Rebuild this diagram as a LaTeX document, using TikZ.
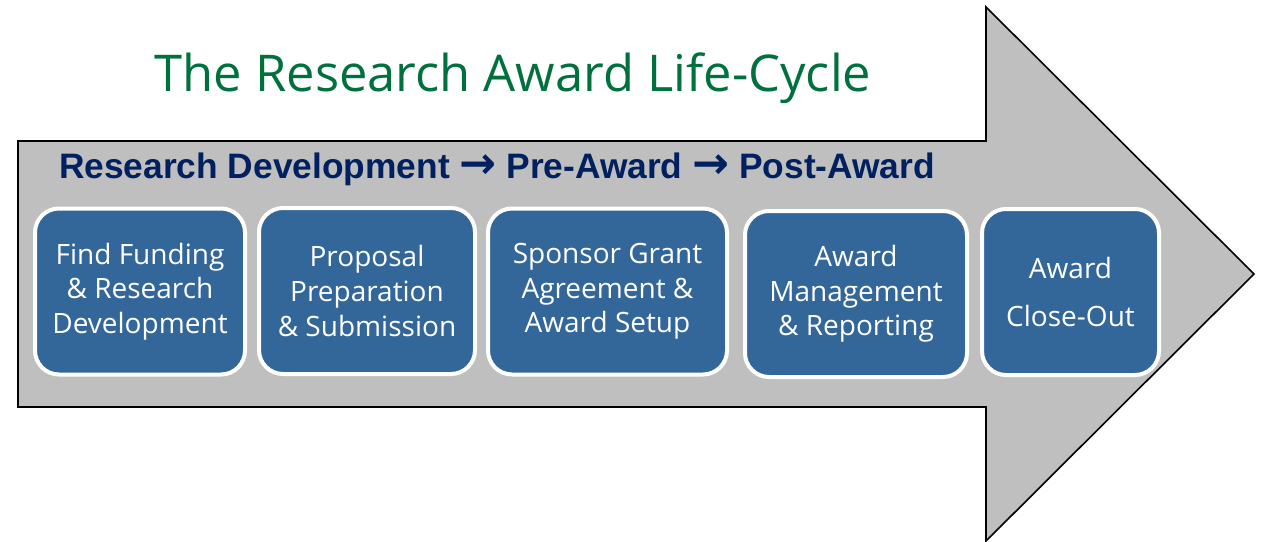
\documentclass[tikz,border=0pt]{standalone}
\usepackage{fontspec}
\usepackage{xcolor}
\setmainfont{Open Sans}
\newfontfamily\headfont{Liberation Sans}
\newfontfamily\symfont{DejaVu Sans}

\definecolor{stageblue}{HTML}{336699}
\definecolor{bodygray}{HTML}{BFBFBF}
\definecolor{titlegreen}{HTML}{00703C}
\definecolor{headnavy}{HTML}{002060}

\newcommand{\nextstep}{{\symfont\bfseries\scalebox{1.25}{→}}}

\begin{document}
\begin{tikzpicture}[
		x=0.75pt, y=-0.75pt,
		stage/.style={rectangle, rounded corners=18pt, draw=white, line width=3pt,
			fill=stageblue, text=white, align=center, inner sep=0pt,
			minimum height=124.5pt, font=\fontsize{21}{26}\selectfont},
		bigarrow/.style={fill=bodygray, draw=black, line width=1.2pt, line join=miter}]
		\useasboundingbox (0,0) rectangle (1266,542);

		% the big arrow behind everything
		\draw[bigarrow] (18,141) -- (986,141) -- (986,7) -- (1254,274)
			-- (986,541) -- (986,407) -- (18,407) -- cycle;

		\node[anchor=base, text=titlegreen, font=\fontsize{38}{46}\selectfont] (title) at (513,91)
			{The Research Award Life-Cycle};
		\node[anchor=base, text=headnavy, font=\headfont\bfseries\fontsize{26.5}{32}\selectfont] (phases) at (497,178)
			{Research Development \nextstep{} Pre-Award \nextstep{} Post-Award};

		\node[stage, minimum width=157.5pt] (find)     at (140,291.5) {Find Funding\\\& Research\\Development};
		\node[stage, minimum width=162pt]   (proposal) at (367,291)   {Proposal\\Preparation\\\& Submission};
		\node[stage, minimum width=179.25pt] (sponsor) at (607.5,291.5) {Sponsor Grant\\Agreement \&\\Award Setup};
		\node[stage, minimum width=166.5pt] (manage)   at (856,294)   {Award\\Management\\\& Reporting};
		\node[stage, minimum width=132.75pt] (close)   at (1070.5,292) {Award\\[10pt]Close-Out};
\end{tikzpicture}
\end{document}
